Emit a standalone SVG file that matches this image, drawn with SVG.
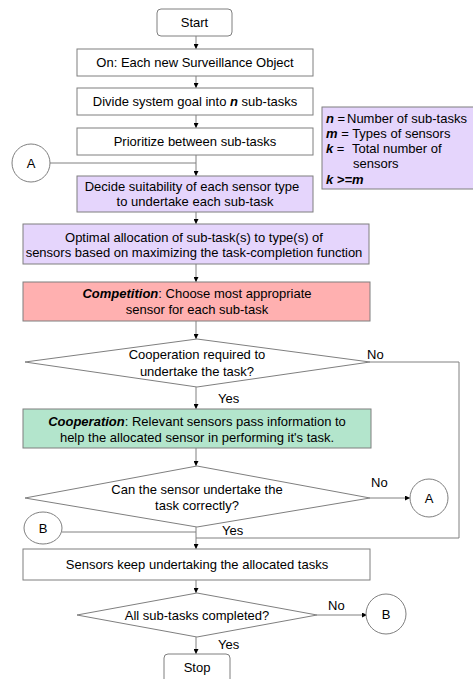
<svg xmlns="http://www.w3.org/2000/svg" width="473" height="679" viewBox="0 0 473 679">
<style>
  text { font-family: "Liberation Sans", Arial, sans-serif; font-size: 13px; fill: #000; }
  .c { text-anchor: middle; }
  .box { fill: #fff; stroke: #7f7f7f; stroke-width: 1; }
  .purple { fill: #e5d5fc; stroke: #7f7f7f; stroke-width: 1; }
  .pink { fill: #ffb0b0; stroke: #7f7f7f; stroke-width: 1; }
  .green { fill: #b3e5cc; stroke: #7f7f7f; stroke-width: 1; }
  .line { fill: none; stroke: #808080; stroke-width: 1; }
  .arr { marker-end: url(#ah); }
  .bi { font-weight: bold; font-style: italic; }
</style>
<defs>
  <marker id="ah" viewBox="0 0 6 6" refX="6" refY="3" markerWidth="5" markerHeight="5" orient="auto" markerUnits="userSpaceOnUse">
    <path d="M0,0 L6,3 L0,6 Z" fill="#000"/>
  </marker>
</defs>

<g id="connectors">
  <line class="line arr" x1="196" y1="36" x2="196" y2="49"/>
  <line class="line arr" x1="196" y1="76" x2="196" y2="88"/>
  <line class="line arr" x1="196" y1="115" x2="196" y2="128"/>
  <line class="line arr" x1="196" y1="155" x2="196" y2="176"/>
  <line class="line" x1="50" y1="163" x2="196" y2="163"/>
  <line class="line arr" x1="196" y1="212" x2="196" y2="224"/>
  <line class="line arr" x1="196" y1="264" x2="196" y2="282"/>
  <line class="line arr" x1="196" y1="321" x2="196" y2="339"/>
  <line class="line arr" x1="196" y1="387" x2="196" y2="409"/>
  <polyline class="line" points="370,362 459,362 459,538 196,538"/>
  <line class="line arr" x1="196" y1="448" x2="196" y2="466"/>
  <line class="line arr" x1="370" y1="498" x2="410" y2="498"/>
  <line class="line arr" x1="196" y1="527" x2="196" y2="549"/>
  <line class="line" x1="62" y1="532" x2="196" y2="532"/>
  <line class="line arr" x1="196" y1="580" x2="196" y2="593"/>
  <line class="line arr" x1="317" y1="615" x2="367" y2="615"/>
  <line class="line arr" x1="196" y1="637" x2="196" y2="654"/>
  <text x="367" y="359">No</text>
  <text x="371" y="487">No</text>
  <text x="328" y="610">No</text>
  <text x="218" y="403">Yes</text>
  <text x="222" y="535">Yes</text>
  <text x="218" y="649">Yes</text>
</g>

<g id="start">
  <rect class="box" x="157" y="9" width="75" height="27" rx="4"/>
  <text class="c" x="194.5" y="27">Start</text>
</g>
<g id="on">
  <rect class="box" x="77" y="49" width="236" height="27"/>
  <text class="c" x="195" y="67">On: Each new Surveillance Object</text>
</g>
<g id="divide">
  <rect class="box" x="77" y="88" width="236" height="27"/>
  <text class="c" x="195" y="106">Divide system goal into <tspan class="bi">n</tspan> sub-tasks</text>
</g>
<g id="prioritize">
  <rect class="box" x="77" y="128" width="236" height="27"/>
  <text class="c" x="195" y="146">Prioritize between sub-tasks</text>
</g>
<g id="note">
  <rect class="purple" x="322" y="107" width="160" height="82"/>
  <text x="326" y="123"><tspan class="bi">n</tspan> =</text>
  <text x="347" y="123">Number of sub-tasks</text>
  <text x="326" y="138"><tspan class="bi">m</tspan> = Types of sensors</text>
  <text x="326" y="153"><tspan class="bi">k</tspan> =</text>
  <text x="352" y="153">Total number of</text>
  <text x="353" y="168">sensors</text>
  <text x="326" y="184" class="bi">k &gt;=m</text>
</g>
<g id="connA1">
  <circle class="box" cx="31" cy="163" r="19"/>
  <text class="c" x="31" y="168">A</text>
</g>
<g id="decide">
  <rect class="purple" x="77" y="176" width="236" height="36"/>
  <text class="c" x="192" y="191">Decide suitability of each sensor type</text>
  <text class="c" x="195" y="206">to undertake each sub-task</text>
</g>
<g id="optimal">
  <rect class="purple" x="23" y="224" width="346" height="40"/>
  <text class="c" x="194" y="242">Optimal allocation of sub-task(s) to type(s) of</text>
  <text class="c" x="194" y="257">sensors based on maximizing the task-completion function</text>
</g>
<g id="competition">
  <rect class="pink" x="23" y="282" width="347" height="39"/>
  <text class="c" x="197" y="298"><tspan class="bi">Competition</tspan>: Choose most appropriate</text>
  <text class="c" x="197" y="314">sensor for each sub-task</text>
</g>
<g id="decision1">
  <polygon class="box" points="197,339 370,362 197,387 25,362"/>
  <text class="c" x="197" y="359">Cooperation required to</text>
  <text class="c" x="197" y="376">undertake the task?</text>
</g>
<g id="cooperation">
  <rect class="green" x="23" y="409" width="348" height="39"/>
  <text class="c" x="197" y="426"><tspan class="bi">Cooperation</tspan>: Relevant sensors pass information to</text>
  <text class="c" x="197" y="442">help the allocated sensor in performing it's task.</text>
</g>
<g id="decision2">
  <polygon class="box" points="197,466 370,498 197,527 25,498"/>
  <text class="c" x="197" y="494">Can the sensor undertake the</text>
  <text class="c" x="197" y="510">task correctly?</text>
</g>
<g id="connA2">
  <circle class="box" cx="429" cy="498" r="19"/>
  <text class="c" x="429" y="503">A</text>
</g>
<g id="connB1">
  <ellipse class="box" cx="43" cy="528" rx="19" ry="16"/>
  <text class="c" x="43" y="533">B</text>
</g>
<g id="sensors">
  <rect class="box" x="23" y="549" width="347" height="31"/>
  <text class="c" x="197" y="569">Sensors keep undertaking the allocated tasks</text>
</g>
<g id="decision3">
  <polygon class="box" points="197,593 317,615 197,637 77,615"/>
  <text class="c" x="197" y="620">All sub-tasks completed?</text>
</g>
<g id="connB2">
  <circle class="box" cx="386" cy="614" r="20"/>
  <text class="c" x="386" y="619">B</text>
</g>
<g id="stop">
  <rect class="box" x="164" y="654" width="66" height="32" rx="4"/>
  <text class="c" x="197" y="672">Stop</text>
</g>
</svg>
